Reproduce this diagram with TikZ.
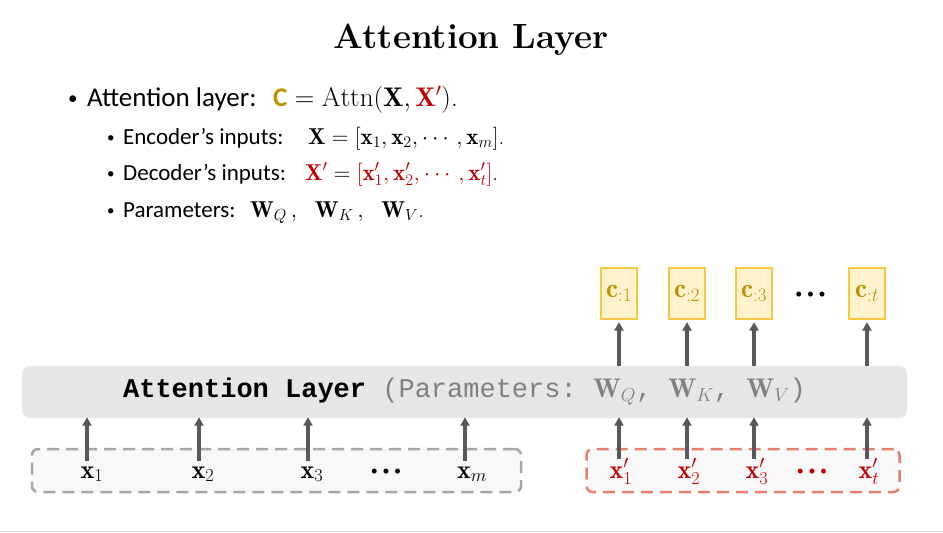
\documentclass[tikz,border=0pt]{standalone}
\usepackage{fix-cm}
\usepackage{amsmath, amssymb}
\usepackage{fontspec}
\setmonofont{Liberation Mono}
\newfontfamily\bodyfont{Carlito}
\usepackage{xcolor}
\usepackage{tikz}
\usetikzlibrary{arrows.meta,positioning}

\definecolor{gold}{HTML}{BF9000}
\definecolor{darkred}{HTML}{C00000}
\definecolor{barfill}{HTML}{E6E6E6}
\definecolor{boxfill}{HTML}{F8F8F8}
\definecolor{cfill}{HTML}{FFF2CC}
\definecolor{cdraw}{HTML}{F8C845}
\definecolor{encdash}{HTML}{A6A6A6}
\definecolor{decdash}{HTML}{E4806D}
\definecolor{arrowgray}{HTML}{595959}
\definecolor{partext}{HTML}{808080}
\definecolor{footline}{HTML}{DCDFE6}

\newcommand{\sz}[1]{\fontsize{#1}{1.2\dimexpr#1pt\relax}\selectfont}
\newcommand{\dotrow}{{\bodyfont\sz{14}•\kern4.6pt•\kern4.6pt•}}

\begin{document}
\begin{tikzpicture}[x=1pt,y=-1pt,
	txt/.style={anchor=base west,inner sep=0pt},
	lbl/.style={anchor=base,inner sep=0pt,font=\sz{26}},
	bar/.style={fill=barfill,rounded corners=8pt,minimum width=885pt,minimum height=52pt,inner sep=0pt,font=\sz{27}},
	inbox/.style={rounded corners=6pt,fill=boxfill,line width=2.5pt,dash pattern=on 12pt off 7pt,minimum height=43pt},
	cbox/.style={draw=cdraw,fill=cfill,line width=1.2pt,minimum width=36pt,minimum height=51pt,inner sep=0pt,text=gold,font=\sz{27}},
	inarrow/.style={-{Triangle[width=9pt,length=8.5pt]},color=arrowgray,line width=3.2pt}]
		\useasboundingbox (0,0) rectangle (943,533);
		%
		\node[anchor=base,inner sep=0pt,font=\sz{35}\bfseries] (title) at (471,48) {Attention Layer};
		%
		\node[txt,font=\sz{19}\bodyfont] (b1) at (68,104) {•};
		\node[txt,font=\sz{27}\bodyfont] (l1) at (87,106) {Attention layer:};
		\node[txt,font=\sz{27}] (m1) at (273,106) {$\text{\bodyfont\bfseries\color{gold}C}=\mathrm{Attn}(\mathbf{X},{\color{darkred}\mathbf{X}'})$.};
		\node[txt,font=\sz{15}\bodyfont] (b2) at (107,142) {•};
		\node[txt,font=\sz{23}\bodyfont] (l2) at (123,144) {Encoder’s inputs:};
		\node[txt,font=\sz{23}] (m2) at (308,144) {$\mathbf{X}=[\mathbf{x}_1,\mathbf{x}_2,\cdots,\mathbf{x}_m]$.};
		\node[txt,font=\sz{15}\bodyfont] (b3) at (107,178) {•};
		\node[txt,font=\sz{23}\bodyfont] (l3) at (123,180) {Decoder’s inputs:};
		\node[txt,font=\sz{23}] (m3) at (305,180) {${\color{darkred}\mathbf{X}'}={\color{darkred}[\mathbf{x}'_1,\mathbf{x}'_2,\cdots,\mathbf{x}'_t]}$.};
		\node[txt,font=\sz{15}\bodyfont] (b4) at (107,215) {•};
		\node[txt,font=\sz{23}\bodyfont] (l4) at (123,217) {Parameters:};
		\node[txt,font=\sz{23}] (m4) at (250,217) {$\mathbf{W}_Q\,,\ \ \mathbf{W}_K\,,\ \ \mathbf{W}_V$.};
		%
		\node[bar] (bar) at (464.5,392) {\raisebox{-3pt}{\texttt{\textbf{Attention Layer} {\color{partext}(Parameters: $\mathbf{W}_Q$, $\mathbf{W}_K$, $\mathbf{W}_V$)}}}};
		%
		\node[cbox] (c1) at (619,293.5) {$\mathbf{c}_{:1}$};
		\node[cbox] (c2) at (687,293.5) {$\mathbf{c}_{:2}$};
		\node[cbox] (c3) at (754,293.5) {$\mathbf{c}_{:3}$};
		\node[inner sep=0pt] (cdots) at (810.5,295) {\dotrow};
		\node[cbox] (ct) at (867,293.5) {$\mathbf{c}_{:t}$};
		%
		\node[inbox,draw=encdash,minimum width=489pt] (enc) at (276.5,470.5) {};
		\node[inbox,draw=decdash,minimum width=313pt] (dec) at (743,470.5) {};
		\node[lbl] (x1) at (92,478) {$\mathbf{x}_1$};
		\node[lbl] (x2) at (203,478) {$\mathbf{x}_2$};
		\node[lbl] (x3) at (312,478) {$\mathbf{x}_3$};
		\node[inner sep=0pt] (xdots) at (386,472) {\dotrow};
		\node[lbl] (xm) at (472,478) {$\mathbf{x}_m$};
		\node[lbl,text=darkred] (y1) at (621,478) {$\mathbf{x}'_1$};
		\node[lbl,text=darkred] (y2) at (689,478) {$\mathbf{x}'_2$};
		\node[lbl,text=darkred] (y3) at (757,478) {$\mathbf{x}'_3$};
		\node[inner sep=0pt,text=darkred] (ydots) at (812,472) {\dotrow};
		\node[lbl,text=darkred] (yt) at (869,478) {$\mathbf{x}'_t$};
		%
		\coordinate (e1) at (87,461);
		\coordinate (e2) at (199,461);
		\coordinate (e3) at (308,461);
		\coordinate (e4) at (465,461);
		\coordinate (d1) at (619,459);
		\coordinate (d2) at (687,459);
		\coordinate (d3) at (754,459);
		\coordinate (d4) at (867,459);
		%
		\draw[inarrow] (e1) -- ([yshift=1pt]e1 |- bar.south);
		\draw[inarrow] (e2) -- ([yshift=1pt]e2 |- bar.south);
		\draw[inarrow] (e3) -- ([yshift=1pt]e3 |- bar.south);
		\draw[inarrow] (e4) -- ([yshift=1pt]e4 |- bar.south);
		\draw[inarrow] (d1) -- ([yshift=1pt]d1 |- bar.south);
		\draw[inarrow] (d2) -- ([yshift=1pt]d2 |- bar.south);
		\draw[inarrow] (d3) -- ([yshift=1pt]d3 |- bar.south);
		\draw[inarrow] (d4) -- ([yshift=1pt]d4 |- bar.south);
		\draw[inarrow,shorten >=2.5pt] (c1 |- bar.north) -- (c1);
		\draw[inarrow,shorten >=2.5pt] (c2 |- bar.north) -- (c2);
		\draw[inarrow,shorten >=2.5pt] (c3 |- bar.north) -- (c3);
		\draw[inarrow,shorten >=2.5pt] (ct |- bar.north) -- (ct);
		%
		\draw[footline,line width=1.5pt] (0,531.5) -- (943,531.5);
\end{tikzpicture}
\end{document}
